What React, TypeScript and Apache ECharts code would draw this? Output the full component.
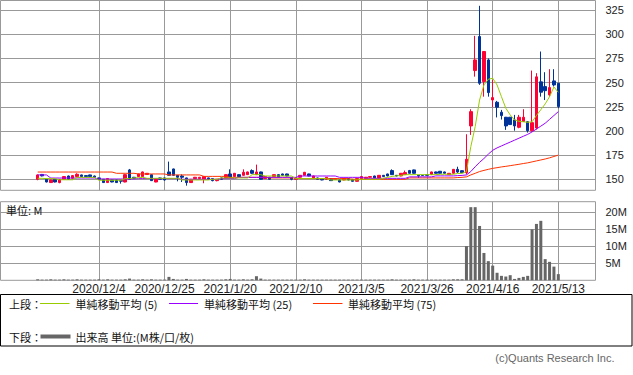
import React, { useEffect, useRef } from "react";
import * as echarts from "echarts";

// Trading-day index (0 = 2020/11/13) of each dated grid line and its label
const dateTickIndex = [14, 29, 44, 59, 74, 89, 104, 119];
const dateTickLabels = [
  "2020/12/4",
  "2020/12/25",
  "2021/1/20",
  "2021/2/10",
  "2021/3/5",
  "2021/3/26",
  "2021/4/16",
  "2021/5/13",
];
const priceTicks = [150, 175, 200, 225, 250, 275, 300, 325];
const volumeTicks = [5, 10, 15, 20];

// [open, close, low, high]
const candles: number[][] = [
  [150, 154.5, 149, 155], [155, 153.5, 153, 155.5], [150, 147.2, 146.8, 150.5], [146.6, 149.3, 146.2, 149.6],
  [150, 147.2, 146.8, 150.3], [146.6, 150, 145.9, 150.3], [150, 152.8, 149.5, 153.2], [153.4, 150, 149.8, 153.8],
  [151, 153.8, 150.7, 154.1], [152.8, 155.2, 152.5, 156.2], [154.5, 152.8, 152.5, 154.8], [153.8, 152.8, 152.5, 154.1],
  [154.5, 152.8, 152.5, 154.8], [153.4, 152.1, 151.8, 153.8], [151.4, 150, 149.7, 151.7], [150, 146.6, 146.3, 150.3],
  [146.6, 150.7, 146.3, 151], [149.3, 147.2, 146.9, 149.6], [149.3, 146.6, 146.3, 149.6], [148.6, 148, 145.5, 148.9],
  [147.2, 154.8, 146.9, 155.1], [159.7, 150, 149.7, 160.7], [152.1, 151, 150.7, 152.4], [152.8, 155.5, 152.5, 155.8],
  [152.8, 157.6, 152.5, 158], [155, 156.2, 154.8, 156.5], [154.8, 148.6, 148.3, 155.1], [147.2, 150, 146.9, 150.3],
  [151.4, 150, 149.7, 151.7], [151.4, 149.3, 148.6, 151.7], [157.6, 154.1, 153.8, 168.3], [160.7, 154.1, 153.8, 161],
  [154.1, 152.1, 147.9, 154.4], [153.4, 152.1, 147.2, 155], [151.4, 146.6, 143.4, 151.7], [146.6, 150, 146.3, 150.3],
  [150.7, 152.1, 150.4, 152.4], [150.7, 152.1, 150.4, 152.4], [150, 152.8, 145.9, 153.1], [151.4, 150, 149.7, 151.7],
  [150.7, 148.6, 147.9, 151], [148.6, 150, 147.9, 150.3], [151.4, 150, 149.7, 151.7], [151.4, 154.8, 151.1, 155.1],
  [155.5, 152.1, 151.8, 160.3], [152.8, 156.2, 152.5, 156.5], [154.8, 152.8, 152.5, 155.1], [154.1, 157.2, 153.8, 160.3],
  [154.8, 157.6, 154.5, 157.9], [159, 156.2, 155.5, 160.3], [154.8, 157.6, 154.5, 165.2], [157.6, 150, 149.7, 157.9],
  [150.7, 152.8, 150.4, 153.1], [152.1, 150, 149.7, 152.4], [152.8, 154.8, 152.5, 155.1], [154.8, 152.1, 151.8, 155.1],
  [155.5, 154.1, 153.8, 155.8], [155.5, 153.4, 153.1, 155.8], [151.4, 150, 149, 151.7], [150, 150.7, 149.7, 151],
  [152.1, 154.1, 151.8, 154.4], [154.1, 157.2, 153.8, 157.6], [155.5, 153.4, 153.1, 155.8], [151.4, 153.4, 151.1, 153.7],
  [151.4, 150, 149.7, 151.7], [150.7, 149.3, 149, 151], [150, 152.1, 149.7, 152.4], [150.7, 148.6, 148.3, 151],
  [150, 150.7, 149.7, 151], [149.3, 147.2, 146.9, 149.6], [149.3, 150.7, 149, 151], [150.7, 149.3, 149, 151],
  [150, 147.9, 147.6, 150.3], [147.9, 150.7, 147.6, 151], [150.7, 152.8, 150.4, 153.1], [150.7, 152.1, 150.4, 152.4],
  [152.1, 152.8, 151.8, 153.1], [153.4, 151.4, 151.1, 153.7], [151.4, 154.1, 151.1, 154.4], [154.1, 152.8, 152.5, 154.4],
  [155.5, 153.4, 153.1, 155.8], [159, 154.8, 154.5, 160.3], [154.1, 153.4, 153.1, 154.4], [153.4, 156.2, 153.1, 156.5],
  [154.8, 156.9, 154.5, 159], [159, 156.2, 155.8, 159.7], [159.7, 156.2, 155.8, 160], [154.1, 153.4, 151.4, 154.4],
  [154.1, 153.8, 153.5, 154.4], [154.8, 154.1, 153.8, 155.1], [154.8, 157.6, 154.5, 157.9], [157.6, 156.2, 155.9, 157.9],
  [158.3, 156.2, 155.9, 158.6], [157.6, 156.2, 155.9, 157.9], [154.8, 156.2, 154.5, 156.5], [156.2, 160.3, 155.9, 160.6],
  [160.3, 157.5, 156.6, 163], [158.9, 156.8, 156.5, 159.2], [156.8, 170.7, 155, 196.6], [205.2, 220, 195.9, 222.5],
  [262.5, 273.5, 256.2, 298.4], [297.7, 249.4, 247.7, 329.5], [251.1, 282.2, 235.5, 282.5], [273.5, 239.7, 235.5, 275],
  [232.1, 234.5, 224.6, 252.8], [229.7, 224.6, 214, 231.1], [219.4, 215.9, 211.8, 221.8], [214.2, 205.2, 201.1, 214.5],
  [214.2, 206.6, 206.3, 214.5], [211.4, 205.2, 200.3, 216.6], [203.8, 214.2, 202.8, 216.6], [209.8, 214.2, 209.5, 222.5],
  [209.6, 200.3, 198.3, 209.9], [200.3, 208.6, 199.3, 262.5], [203, 256, 201.5, 259.8], [250.8, 240.1, 235.5, 282.2],
  [245.9, 241.7, 232, 260.8], [237.3, 244.9, 235.5, 263.9], [251.8, 247.6, 246, 263.9], [249.4, 225.2, 223.5, 249.7],
];

const ma5 = [
  151, 151, 150.7, 150.7, 150.5, 149.5, 149.5, 149.5, 149.5, 152,
  152, 152, 152, 152, 149, 149, 149, 149, 149, 149,
  150.7, 150.7, 151.5, 151.5, 152, 151, 151, 151, 151, 151,
  151, 151, 151, 149.3, 149.3, 149.3, 149.3, 149.3, 149.3, 149.3,
  150, 150, 151.4, 151.4, 151.4, 151.4, 151.4, 151.4, 151.4, 154.8,
  154.8, 154.8, 153.4, 153.4, 153.4, 153.4, 153.4, 153.4, 153.4, 150.7,
  150.7, 150.7, 150.7, 150.7, 150.7, 150.7, 150.7, 149.3, 149.3, 149.3,
  149.3, 149.3, 149.3, 149.3, 150, 150, 150, 150, 150, 151,
  152, 153, 153.5, 154, 154.8, 154.8, 154.8, 154.8, 154.8, 154.8,
  154.8, 154.8, 155.2, 155.2, 155.2, 155.2, 156, 156.2, 158, 183.8,
  204.5, 232, 247.6, 253.5, 254.6, 247.6, 235.5, 223.5, 216.6, 211.4,
  210, 209.5, 209, 209.5, 216, 222, 228, 235.5, 245.5, 240,
];

const ma25 = [
  154.5, 154.5, 154.5, 151.3, 151.3, 151.3, 151.3, 151.3, 151.3, 151.3,
  151.3, 151.3, 151.3, 151.3, 150.3, 150.3, 150.3, 150.3, 150.3, 150.3,
  150.3, 150.3, 150.3, 150.7, 150.7, 150.7, 150.7, 150.7, 150.7, 150.7,
  150.7, 150.7, 150.7, 150, 150, 150, 150, 150, 150, 150,
  150, 150, 150.7, 150.7, 150.7, 150.7, 152, 152, 152, 152,
  152, 152, 152, 152, 152, 152, 152, 152, 152, 152,
  153.4, 153.4, 153.4, 153.4, 153.4, 153.4, 153.4, 153.4, 153.4, 152,
  152, 152, 152, 152, 152, 151, 151, 151, 151, 151,
  151, 151, 151, 151, 151, 152.5, 152.5, 152.5, 152.5, 152.5,
  152.5, 153.5, 153.5, 153.5, 153.5, 153.5, 153.8, 154, 154.5, 158,
  163, 167.5, 171.5, 176, 180, 182.5, 184.5, 186.5, 188.5, 190.5,
  192.5, 194.5, 196.5, 199, 202, 205, 208, 212, 216, 220,
];

const ma75 = [
  157.5, 157.5, 157.5, 157.5, 157.5, 157.5, 157.5, 157.5, 157.5, 157.5,
  157.5, 157.5, 157.5, 157.5, 157.5, 157.5, 157.5, 157.5, 156.2, 156.2,
  156.2, 156.2, 156.2, 155.5, 155.5, 155.5, 155.5, 155.5, 155.5, 155.5,
  154.5, 154.5, 154.5, 154.5, 154.5, 154.5, 154.5, 154.5, 153, 153,
  153, 153, 153, 153, 152, 152, 152, 152, 152, 152,
  152, 152, 152, 151.4, 151.4, 151.4, 151.4, 151.4, 151.4, 151.4,
  150.7, 150.7, 150.7, 150.7, 150.7, 150.7, 150.7, 150.7, 150.7, 150.7,
  150.7, 150.7, 150, 150, 150, 150, 150, 150, 150, 150,
  150, 150, 150, 150, 150, 151.4, 151.4, 151.4, 151.4, 151.4,
  151.4, 151.4, 151.4, 151.4, 151.4, 151.4, 151.8, 152, 152.5, 154.5,
  156.2, 158, 159.2, 160.3, 161.3, 162, 162.8, 163.4, 164.1, 164.8,
  165.5, 166.3, 167, 168, 169, 170, 171, 172.2, 173.6, 175,
];

// volume in millions
const volumes = [
  0.3, 0.2, 0.2, 0.3, 0.2, 0.2, 0.3, 0.2, 0.2, 0.3,
  0.2, 0.2, 0.2, 0.2, 0.3, 0.2, 0.3, 0.2, 0.2, 0.2,
  0.3, 0.5, 0.2, 0.2, 0.3, 0.2, 0.3, 0.2, 0.2, 0.2,
  1.0, 0.4, 0.2, 0.2, 0.4, 0.2, 0.2, 0.2, 0.3, 0.2,
  0.2, 0.2, 0.2, 0.3, 0.4, 0.2, 0.2, 0.3, 0.2, 0.3,
  1.2, 0.5, 0.2, 0.2, 0.2, 0.2, 0.2, 0.2, 0.2, 0.2,
  0.2, 0.3, 0.2, 0.2, 0.2, 0.2, 0.2, 0.2, 0.2, 0.2,
  0.2, 0.2, 0.2, 0.2, 0.2, 0.2, 0.2, 0.2, 0.2, 0.2,
  0.2, 0.3, 0.2, 0.2, 0.2, 0.2, 0.3, 0.2, 0.2, 0.2,
  0.2, 0.2, 0.2, 0.2, 0.2, 0.3, 0.3, 0.3, 10.0, 21.4,
  21.4, 15.9, 8.0, 5.6, 4.3, 2.2, 1.3, 1.1, 1.5, 0.4,
  0.7, 1.0, 1.3, 14.9, 16.5, 17.4, 6.2, 5.4, 4.0, 1.8,
];

const LATIN = '"Liberation Sans", Arial, sans-serif';
const CJK = '"Noto Sans CJK JP", sans-serif';
const GRID = "#999";
const UP = "#ff0033";
const DOWN = "#003399";
const C5 = "#99cc00";
const C25 = "#9900ff";
const C75 = "#ff3300";
const VOL = "#666666";

export default function App() {
  const ref = useRef<HTMLDivElement>(null);

  useEffect(() => {
    document.body.style.margin = "0";
    if (!ref.current) return;
    const chart = echarts.init(ref.current, undefined, { renderer: "svg" });

    const xBase = {
      type: "value" as const,
      min: -8.5,
      max: 127.5,
      axisLine: { show: false },
      axisTick: { show: false, customValues: dateTickIndex },
      splitLine: { show: true, lineStyle: { color: GRID, width: 1 } },
    };

    const legendY1 = 303.5;
    const legendY2 = 336.5;

    chart.setOption({
      animation: false,
      backgroundColor: "#fff",
      grid: [
        { left: 0.5, top: 0.5, width: 595, height: 189.8, show: true, borderColor: GRID, borderWidth: 1 },
        { left: 0.5, top: 201.7, width: 595, height: 78.6, show: true, borderColor: GRID, borderWidth: 1 },
      ],
      xAxis: [
        { ...xBase, gridIndex: 0, axisLabel: { show: false, customValues: dateTickIndex } },
        {
          ...xBase,
          gridIndex: 1,
          axisLabel: {
            show: true,
            customValues: dateTickIndex,
            formatter: (v: number) => dateTickLabels[dateTickIndex.indexOf(Math.round(v))] ?? "",
            fontSize: 12,
            fontFamily: LATIN,
            color: "#222",
            margin: 3,
          },
        },
      ],
      yAxis: [
        {
          type: "value",
          gridIndex: 0,
          position: "right",
          min: 138.6,
          max: 335,
          axisLine: { show: false },
          axisTick: { show: false, customValues: priceTicks },
          axisLabel: { customValues: priceTicks, margin: 10, fontSize: 11, fontFamily: LATIN, color: "#222" },
          splitLine: { show: true, lineStyle: { color: GRID, width: 1 } },
        },
        {
          type: "value",
          gridIndex: 1,
          position: "right",
          min: 0,
          max: 23,
          axisLine: { show: false },
          axisTick: { show: false, customValues: volumeTicks },
          axisLabel: {
            customValues: volumeTicks,
            formatter: (v: number) => `${v}M`,
            margin: 10,
            fontSize: 11,
            fontFamily: LATIN,
            color: "#222",
          },
          splitLine: { show: true, lineStyle: { color: GRID, width: 1 } },
        },
      ],
      series: [
        {
          type: "candlestick",
          xAxisIndex: 0,
          yAxisIndex: 0,
          barWidth: 3,
          data: candles.map((c, i) => [i, c[0], c[1], c[2], c[3]]),
          itemStyle: { color: UP, color0: DOWN, borderColor: UP, borderColor0: DOWN, borderWidth: 1 },
          z: 2,
        },
        {
          type: "line",
          name: "ma75",
          xAxisIndex: 0,
          yAxisIndex: 0,
          data: ma75.map((v, i) => [i, v]),
          showSymbol: false,
          symbol: "none",
          lineStyle: { color: C75, width: 1 },
          z: 3,
        },
        {
          type: "line",
          name: "ma25",
          xAxisIndex: 0,
          yAxisIndex: 0,
          data: ma25.map((v, i) => [i, v]),
          showSymbol: false,
          symbol: "none",
          lineStyle: { color: C25, width: 1 },
          z: 3,
        },
        {
          type: "line",
          name: "ma5",
          xAxisIndex: 0,
          yAxisIndex: 0,
          data: ma5.map((v, i) => [i, v]),
          showSymbol: false,
          symbol: "none",
          lineStyle: { color: C5, width: 1 },
          z: 3,
        },
        {
          type: "bar",
          xAxisIndex: 1,
          yAxisIndex: 1,
          barWidth: 3,
          data: volumes.map((v, i) => [i, v]),
          itemStyle: { color: VOL },
        },
      ],
      graphic: [
        {
          type: "text",
          x: 6,
          y: 209.5,
          z: 10,
          style: { text: "単位: M", fontSize: 11, fontFamily: CJK, fill: "#111", verticalAlign: "middle", align: "left" },
        },
        {
          type: "rect",
          shape: { x: 0.5, y: 294.5, width: 631.5, height: 51.5 },
          style: { fill: "#fff", stroke: "#000", lineWidth: 1 },
        },
        {
          type: "text",
          x: 9,
          y: legendY1,
          style: { text: "上段：", fontSize: 11, fontFamily: CJK, fill: "#111", verticalAlign: "middle", align: "left" },
        },
        { type: "line", shape: { x1: 40, y1: legendY1, x2: 69.5, y2: legendY1 }, style: { stroke: C5, lineWidth: 1 } },
        {
          type: "text",
          x: 75.5,
          y: legendY1,
          style: { text: "単純移動平均 (5)", fontSize: 11, fontFamily: CJK, fill: "#111", verticalAlign: "middle", align: "left" },
        },
        { type: "line", shape: { x1: 169, y1: legendY1, x2: 198, y2: legendY1 }, style: { stroke: C25, lineWidth: 1 } },
        {
          type: "text",
          x: 204,
          y: legendY1,
          style: { text: "単純移動平均 (25)", fontSize: 11, fontFamily: CJK, fill: "#111", verticalAlign: "middle", align: "left" },
        },
        { type: "line", shape: { x1: 313, y1: legendY1, x2: 342.5, y2: legendY1 }, style: { stroke: C75, lineWidth: 1 } },
        {
          type: "text",
          x: 348,
          y: legendY1,
          style: { text: "単純移動平均 (75)", fontSize: 11, fontFamily: CJK, fill: "#111", verticalAlign: "middle", align: "left" },
        },
        {
          type: "text",
          x: 9,
          y: legendY2,
          style: { text: "下段：", fontSize: 11, fontFamily: CJK, fill: "#111", verticalAlign: "middle", align: "left" },
        },
        { type: "line", shape: { x1: 40.5, y1: legendY2, x2: 70.5, y2: legendY2 }, style: { stroke: VOL, lineWidth: 4 } },
        {
          type: "text",
          x: 75.5,
          y: legendY2,
          style: {
            text: "出来高 単位:(M株/口/枚)",
            fontSize: 11,
            fontFamily: CJK,
            fill: "#111",
            verticalAlign: "middle",
            align: "left",
          },
        },
        {
          type: "text",
          x: 614.5,
          y: 358,
          style: {
            text: "(c)Quants Research Inc.",
            fontSize: 11,
            fontFamily: LATIN,
            fill: "#666",
            verticalAlign: "middle",
            align: "right",
          },
        },
      ],
    });

    return () => chart.dispose();
  }, []);

  return <div ref={ref} style={{ width: 633, height: 375 }} />;
}
